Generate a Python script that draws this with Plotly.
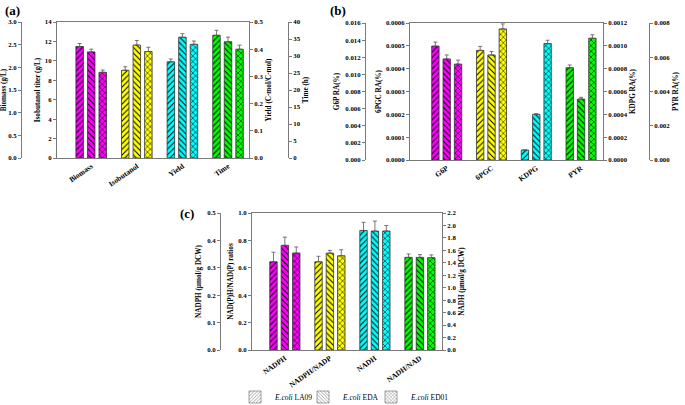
import plotly.graph_objects as go

W, H = 685, 405
strains = ["<i>E.coli</i> LA09", "<i>E.coli</i> EDA", "<i>E.coli</i> ED01"]
shapes = ["/", "\\", "x"]

# Panel (a)
cats_a = ["Biomass", "Isobutanol", "Yield", "Time"]
biomass = [2.46, 2.34, 1.89]
biomass_err = [0.065, 0.06, 0.05]
isobutanol = [9.03, 11.63, 10.96]
isobutanol_err = [0.37, 0.47, 0.44]
yield_ = [0.354, 0.444, 0.418]
yield_err = [0.010, 0.013, 0.012]
time_h = [36.1, 34.2, 32.0]
time_err = [1.45, 1.35, 1.2]

# Panel (b)
cats_b = ["G6P", "6PGC", "KDPG", "PYR"]
g6p = [0.0133, 0.0118, 0.0112]
g6p_err = [0.00047, 0.00047, 0.00047]
pgc = [0.000480, 0.000460, 0.000574]
pgc_err = [0.0000175, 0.000015, 0.000022]
kdpg = [0.0000876, 0.000400, 0.00102]
kdpg_err = [0.0, 0.000006, 0.000029]
pyr = [0.00539, 0.00356, 0.00711]
pyr_err = [0.00016, 0.0001, 0.0002]

# Panel (c)
cats_c = ["NADPH", "NADPH/NADP", "NADH", "NADH/NAD"]
nadph = [0.322, 0.382, 0.354]
nadph_err = [0.035, 0.03, 0.022]
nadph_ratio = [0.644, 0.707, 0.688]
nadph_ratio_err = [0.04, 0.02, 0.044]
nadh = [1.92, 1.91, 1.91]
nadh_err = [0.13, 0.16, 0.09]
nadh_ratio = [0.676, 0.676, 0.674]
nadh_ratio_err = [0.025, 0.02, 0.02]

group_colors = ["#FF00FF", "#FFFF00", "#00FFFF", "#00FF00"]

FONT = "Liberation Serif"
BW = 0.165
OFFS = [-0.253 - BW / 2, -BW / 2, 0.253 - BW / 2]
LINE = "#7a7a7a"

fig = go.Figure()


def add_group(xa, ya, cat, vals, errs, color):
    for i in range(3):
        fig.add_trace(go.Bar(
            x=[cat], y=[vals[i]], xaxis=xa, yaxis=ya,
            width=BW, offset=OFFS[i], showlegend=False,
            marker=dict(color=color, line=dict(color="#333333", width=0.8),
                        pattern=dict(shape=shapes[i], fgcolor="#000000",
                                     bgcolor=color, size=4, solidity=0.25,
                                     fillmode="replace")),
            error_y=dict(type="data", symmetric=False, array=[errs[i]],
                         arrayminus=[0], color="#555555", thickness=0.8, width=2),
        ))


add_group("x", "y2", cats_a[0], biomass, biomass_err, group_colors[0])
add_group("x", "y", cats_a[1], isobutanol, isobutanol_err, group_colors[1])
add_group("x", "y3", cats_a[2], yield_, yield_err, group_colors[2])
add_group("x", "y4", cats_a[3], time_h, time_err, group_colors[3])

add_group("x2", "y6", cats_b[0], g6p, g6p_err, group_colors[0])
add_group("x2", "y5", cats_b[1], pgc, pgc_err, group_colors[1])
add_group("x2", "y7", cats_b[2], kdpg, kdpg_err, group_colors[2])
add_group("x2", "y8", cats_b[3], pyr, pyr_err, group_colors[3])

add_group("x3", "y10", cats_c[0], nadph, nadph_err, group_colors[0])
add_group("x3", "y9", cats_c[1], nadph_ratio, nadph_ratio_err, group_colors[1])
add_group("x3", "y11", cats_c[2], nadh, nadh_err, group_colors[2])
add_group("x3", "y9", cats_c[3], nadh_ratio, nadh_ratio_err, group_colors[3])

# legend entries
for i in range(3):
    fig.add_trace(go.Bar(
        x=[None], y=[None], xaxis="x3", yaxis="y9", name=strains[i],
        marker=dict(color="white", line=dict(color="#888888", width=0.8),
                    pattern=dict(shape=shapes[i], fgcolor="#888888", bgcolor="white",
                                 size=3, solidity=0.3, fillmode="replace")),
    ))
# invisible spacer entry so the last legend label is not clipped
fig.add_trace(go.Bar(
    x=[None], y=[None], xaxis="x3", yaxis="y9", name=" ",
    marker=dict(color="rgba(0,0,0,0)", line=dict(width=0)),
))

tickf = dict(family=FONT, size=6.8, color="black")
titf = dict(family=FONT, size=7.2, color="black")


def yax(title, rng, dtick, fmt, **kw):
    d = dict(title=dict(text="<b>%s</b>" % title, font=titf, standoff=3),
             range=rng, dtick=dtick, tickformat=fmt, tickfont=tickf,
             showgrid=False, zeroline=False, showline=True, linecolor=LINE,
             linewidth=1, ticks="outside", ticklen=3, tickcolor=LINE,
             tickprefix="<b>", ticksuffix="</b>")
    d.update(kw)
    return d


def xax(cats, rng, dom, anchor):
    return dict(domain=dom, anchor=anchor, type="category", categoryarray=cats,
                categoryorder="array", range=rng, showgrid=False, showline=True,
                mirror=True, linecolor=LINE, linewidth=1, ticks="",
                tickangle=-35, tickfont=dict(family=FONT, size=7.5, color="black"),
                tickprefix="<b>", ticksuffix="</b>", zeroline=False)


def px(v):
    return v / W


def py(v):
    return 1 - v / H


dom_a = [py(158), py(22)]
dom_b = [py(160), py(23)]
dom_c = [py(350), py(213)]

fig.update_layout(
    width=W, height=H, margin=dict(l=0, r=0, t=0, b=0, autoexpand=False),
    paper_bgcolor="white", plot_bgcolor="white", barmode="overlay",
    font=dict(family=FONT, color="black"),
    xaxis=xax(cats_a, [-0.75, 3.46], [px(57), px(249)], "y"),
    xaxis2=xax(cats_b, [-0.82, 3.49], [px(410), px(603)], "y5"),
    xaxis3=xax(cats_c, [-0.73, 3.49], [px(252), px(442)], "y9"),
    yaxis=yax("Isobutanol titer (g/L)", [0, 14], 2, "d", domain=dom_a, anchor="x"),
    yaxis2=yax("Biomass (g/L)", [0, 3], 0.5, ".1f", overlaying="y", anchor="free",
               position=px(21), side="left"),
    yaxis3=yax("Yield (C-mol/C-mol)", [0, 0.5], 0.1, ".1f", overlaying="y", anchor="x",
               side="right"),
    yaxis4=yax("Time (h)", [0, 40], 5, "d", overlaying="y", anchor="free",
               position=px(288), side="right"),
    yaxis5=yax("6PGC RA(%)", [0, 0.0006], 0.0001, ".4f", domain=dom_b, anchor="x2"),
    yaxis6=yax("G6P RA(%)", [0, 0.016], 0.002, ".3f", overlaying="y5", anchor="free",
               position=px(365), side="left"),
    yaxis7=yax("KDPG RA(%)", [0, 0.0012], 0.0002, ".4f", overlaying="y5", anchor="x2",
               side="right"),
    yaxis8=yax("PYR RA(%)", [0, 0.008], 0.002, ".3f", overlaying="y5", anchor="free",
               position=px(649), side="right"),
    yaxis9=yax("NAD(P)H/NAD(P) ratios", [0, 1.0], 0.2, ".1f", domain=dom_c, anchor="x3"),
    yaxis10=yax("NADPH (μmol/g DCW)", [0, 0.5], 0.1, ".1f", overlaying="y9",
                anchor="free", position=px(220), side="left"),
    yaxis11=yax("NADH (μmol/g DCW)", [0, 2.2], 0.2, ".1f", overlaying="y9",
                anchor="x3", side="right"),
    legend=dict(orientation="h", x=px(235), y=py(397), xanchor="left", yanchor="middle",
                font=dict(family=FONT, size=7.5, color="black"), itemwidth=30,
                entrywidth=23, entrywidthmode="pixels",
                bgcolor="rgba(0,0,0,0)", tracegroupgap=0),
    annotations=[
        dict(text="<b>(a)</b>", x=px(3), y=py(10), xref="paper", yref="paper",
             xanchor="left", yanchor="middle", showarrow=False,
             font=dict(family=FONT, size=13, color="black")),
        dict(text="<b>(b)</b>", x=px(328), y=py(10), xref="paper", yref="paper",
             xanchor="left", yanchor="middle", showarrow=False,
             font=dict(family=FONT, size=13, color="black")),
        dict(text="<b>(c)</b>", x=px(178), y=py(213), xref="paper", yref="paper",
             xanchor="left", yanchor="middle", showarrow=False,
             font=dict(family=FONT, size=13, color="black")),
    ],
)

fig.write_html("out.html", config={"displayModeBar": False},
               post_script="document.body.style.margin='0';document.body.style.overflow='hidden';")
